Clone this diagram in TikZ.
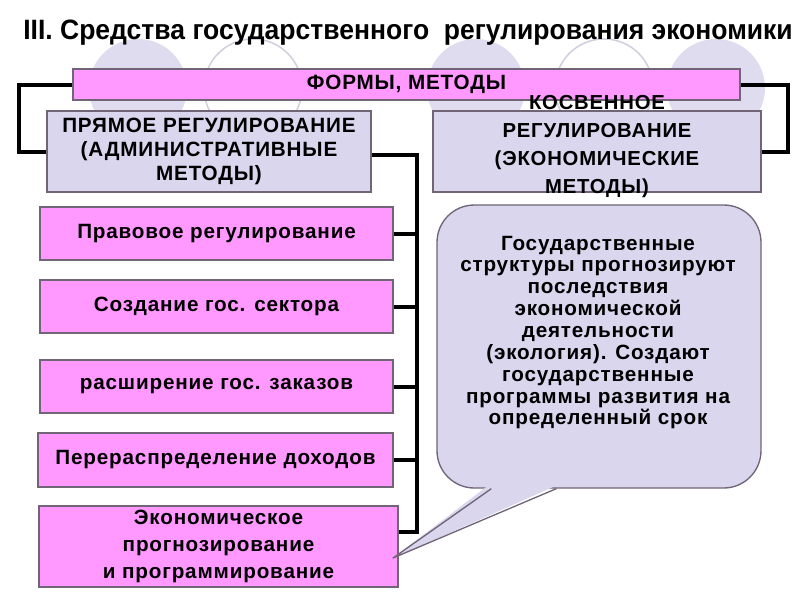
\documentclass[tikz,border=0pt]{standalone}
\usepackage{fontspec}
\usepackage{graphicx}
\setmainfont{Liberation Sans}
\newfontfamily\spcfont{Liberation Sans}[LetterSpace=4]
\usetikzlibrary{calc}
\definecolor{pinkc}{RGB}{255,153,255}
\definecolor{lavc}{RGB}{217,214,238}
\definecolor{circc}{RGB}{222,220,238}
\definecolor{edgec}{RGB}{112,100,118}
\begin{document}
\begin{tikzpicture}[x=0.75pt,y=-0.75pt,
  boxfont/.style={font={\spcfont\bfseries\fontsize{15.5}{18}\selectfont}},
  pinkbox/.style={draw=edgec, line width=1pt, fill=pinkc, inner sep=0pt, align=center, boxfont},
  lavbox/.style={draw=edgec, line width=1pt, fill=lavc, inner sep=0pt, align=center, boxfont},
  txt/.style={inner sep=0pt, align=center},
  conn/.style={line width=3pt, black},
  ]
\useasboundingbox (0,0) rectangle (800,600);
\fill[white] (0,0) rectangle (800,600);
% background circles
\foreach \cx in {138,476,716} \fill[circc] (\cx,88) circle[radius=36.75pt];
\foreach \cx in {253,604} \draw[circc!85!gray, line width=1.1pt] (\cx,88) circle[radius=36.75pt];
% title
\node[txt] (title) at (408,32.5) {\resizebox{577pt}{\height}{\bfseries\fontsize{21}{24}\selectfont III. Средства государственного\ \ регулирования экономики}};
% boxes
\node[pinkbox, minimum width=500.25pt, minimum height=23.25pt] (forms) at (406.5,84.5) {ФОРМЫ, МЕТОДЫ};
\node[lavbox, minimum width=243pt, minimum height=60.75pt] (pryam) at (209,151.5) {ПРЯМОЕ РЕГУЛИРОВАНИЕ\\(АДМИНИСТРАТИВНЫЕ\\МЕТОДЫ)};
\node[lavbox, minimum width=246pt, minimum height=60.75pt] (kosv) at (597,151.5) {};
\node[txt, font={\spcfont\bfseries\fontsize{15.2}{21}\selectfont}] (kosvtext) at (597,146.5) {КОСВЕННОЕ\\РЕГУЛИРОВАНИЕ\\(ЭКОНОМИЧЕСКИЕ\\МЕТОДЫ)};
\node[pinkbox, minimum width=264.75pt, minimum height=39.75pt] (b1) at (216.5,233.5) {Правовое регулирование};
\node[pinkbox, minimum width=264.75pt, minimum height=39.75pt] (b2) at (216.5,306.5) {Создание гос. сектора};
\node[pinkbox, minimum width=264.75pt, minimum height=39.75pt] (b3) at (216.5,386.5) {расширение гос. заказов};
\node[pinkbox, minimum width=266.25pt, minimum height=40.5pt] (b4) at (215.5,460) {Перераспределение доходов};
\node[pinkbox, minimum width=269.25pt, minimum height=60.75pt, font={\spcfont\bfseries\fontsize{15.5}{20}\selectfont}] (b5) at (218.5,546.5) {Экономическое\\прогнозирование\\и программирование};
% callout
\node[draw=edgec, line width=1pt, fill=lavc, rounded corners=28pt, minimum width=243pt, minimum height=212.25pt] (call) at (599,346.5) {};
\coordinate (tip) at (393,558);
\fill[lavc] (tip) -- ($(call.south west)+(53,-4)$) -- ($(call.south west)+(122,-4)$) -- cycle;
\draw[edgec, line width=1pt, line join=round] ($(call.south west)+(55,0)$) -- (tip) -- ($(call.south west)+(120,0)$);
\node[txt, font={\spcfont\bfseries\fontsize{15.5}{16.4}\selectfont}] (calltext) at (598,332.5) {Государственные\\структуры прогнозируют\\последствия\\экономической\\деятельности\\(экология). Создают\\государственные\\программы развития на\\определенный срок};
% connectors
\coordinate (bustop) at (417,155);
\coordinate (busbot) at (417,532);
\draw[conn] (forms.west) -- ++(-53,0) |- (pryam.west);
\draw[conn] (forms.east) -- ++(47,0) |- (kosv.east);
\draw[conn] (pryam.east |- bustop) -- (bustop) -- (busbot) -- (b5.east |- busbot);
\foreach \b in {b1,b2,b3,b4} \draw[conn] (\b.east) -- (\b.east -| bustop);
\end{tikzpicture}
\end{document}
